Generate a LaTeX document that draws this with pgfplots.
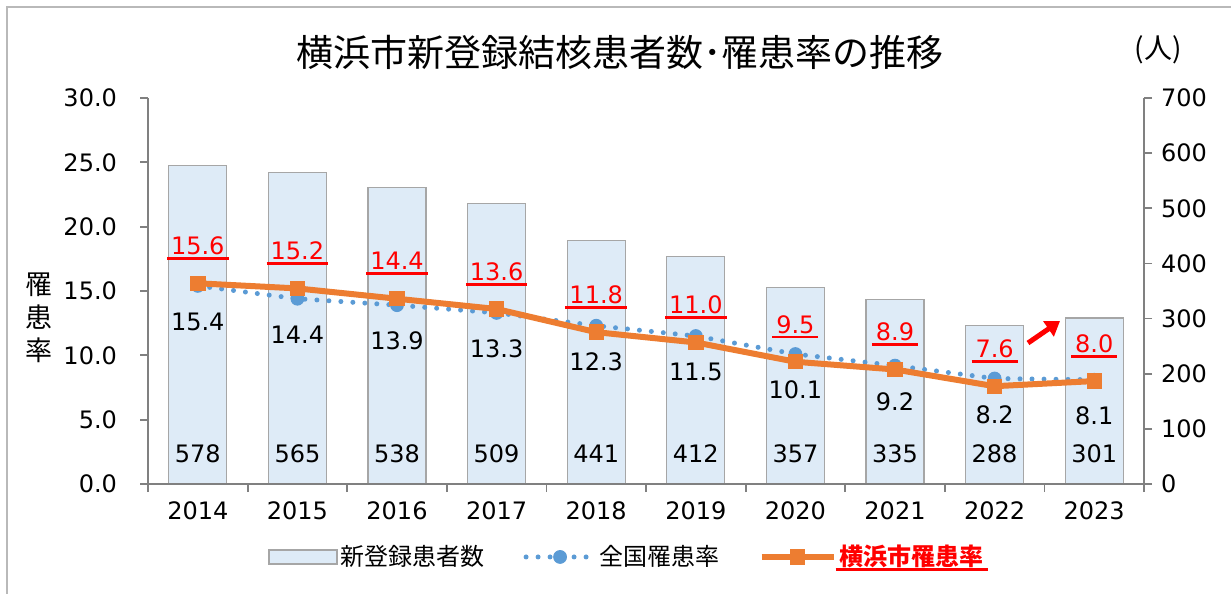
\documentclass[border=0pt]{standalone}
\usepackage{pgfplots}
\pgfplotsset{compat=1.18}
\usepackage{pgfplotstable}
\usepackage{fontspec}
\setmainfont{DejaVu Sans}
\newfontfamily\cjk{Noto Sans CJK JP}
\usetikzlibrary{arrows.meta}
\definecolor{barfill}{HTML}{DEEBF7}
\definecolor{bargray}{HTML}{A6A6A6}
\definecolor{axgray}{HTML}{808080}
\definecolor{natblue}{HTML}{5B9BD5}
\definecolor{yoko}{HTML}{ED7D31}
\definecolor{redlab}{HTML}{FF0000}
\newcommand\lab{\fontsize{12}{14}\selectfont}
\newcommand\ul[1]{\setbox0\hbox{#1}\rlap{\kern-2pt\rule[-2.6pt]{\dimexpr\wd0+4pt\relax}{1.3pt}}\box0}
\pgfplotsset{/pgf/number format/assume math mode=true,
  natleg/.style={legend image code/.code={\draw[mark repeat=2,mark phase=2,##1] plot coordinates {(0pt,0pt) (17pt,0pt) (34pt,0pt)};}},
  yokoleg/.style={legend image code/.code={\draw[mark repeat=2,mark phase=2,##1] plot coordinates {(0pt,0pt) (18pt,0pt) (36pt,0pt)};}},
  barleg/.style={legend image code/.code={\draw[fill=barfill, draw=bargray, line width=0.6pt] (0pt,-3.5pt) rectangle (34pt,3.5pt);}},
}

\pgfplotstableread{
x count nat  yoko
0 578   15.4 15.6
1 565   14.4 15.2
2 538   13.9 14.4
3 509   13.3 13.6
4 441   12.3 11.8
5 412   11.5 11.0
6 357   10.1 9.5
7 335   9.2  8.9
8 288   8.2  7.6
9 301   8.1  8.0
}\data

\begin{document}
\begin{tikzpicture}[x=1pt,y=1pt]
\useasboundingbox (0,0) rectangle (615.5,297);
\draw[gray!55, line width=1pt] (3.5,-2) -- (3.5,293.5) -- (620,293.5);

% right axis: counts (bars)
\begin{axis}[
  at={(74pt,55pt)}, anchor=south west,
  scale only axis, width=498pt, height=193pt,
  xmin=-0.5, xmax=9.5, ymin=0, ymax=700,
  axis x line=none, axis y line*=right,
  axis line style={draw=axgray, line width=0.9pt, -},
  ytick={0,100,...,700},
  tick align=outside, major tick length=4pt,
  ytick style={draw=axgray, line width=0.9pt},
  yticklabel style={font=\lab, xshift=1pt},
  clip=false,
]
\addplot[ybar, bar width=29pt, fill=barfill, draw=bargray, line width=0.6pt,
  visualization depends on={rawy \as \rawy},
  nodes near coords={\pgfmathprintnumber{\pgfplotspointmeta}},
  every node near coord/.append style={font=\lab, text=black, anchor=center,
    yshift={15.25-0.275714*\rawy}}]
  table[x=x, y=count] {\data};
\end{axis}

% left axis: rates (lines)
\begin{axis}[
  at={(74pt,55pt)}, anchor=south west,
  scale only axis, width=498pt, height=193pt,
  xmin=-0.5, xmax=9.5, ymin=0, ymax=30,
  axis x line*=bottom, axis y line*=left,
  axis line style={draw=axgray, line width=0.9pt, -},
  xtick={0,...,9},
  xticklabels={2014,2015,2016,2017,2018,2019,2020,2021,2022,2023},
  minor xtick={-0.5,0.5,...,9.5},
  major x tick style={draw=none},
  minor x tick style={draw=axgray, line width=0.9pt},
  minor tick length=4pt,
  ytick={0,5,...,30},
  yticklabel={\pgfmathprintnumber[fixed,fixed zerofill,precision=1]{\tick}},
  tick align=outside, major tick length=4pt,
  ytick style={draw=axgray, line width=0.9pt},
  yticklabel style={font=\lab, xshift=-8pt},
  xticklabel style={font=\lab, yshift=-1.5pt},
  clip=false,
  legend columns=3,
  legend style={at={(0.4814,-0.189)}, anchor=center, draw=none, fill=none,
    font=\cjk\fontsize{12}{14}\selectfont,
    nodes={inner sep=1.5pt},
    /tikz/every even column/.append style={column sep=18pt},
    /tikz/every odd column/.append style={column sep=0pt}},
]
\addlegendimage{barleg}
\addlegendentry{新登録患者数}

\addplot[color=natblue, line width=2.5pt, dash pattern=on 0pt off 6pt, line cap=round,
  mark=*, mark size=3.2pt, mark options={solid, fill=natblue, draw=natblue, line width=0.5pt},
  nodes near coords={\pgfmathprintnumber[fixed,fixed zerofill,precision=1]{\pgfplotspointmeta}},
  every node near coord/.append style={font=\lab, text=black, anchor=center, yshift=-18pt},
  natleg]
  table[x=x, y=nat] {\data};
\addlegendentry{全国罹患率}

\addplot[color=yoko, line width=3pt, mark=square*, mark size=3.6pt, mark options={solid, fill=yoko, draw=yoko, line width=0.5pt},
  nodes near coords={\ul{\pgfmathprintnumber[fixed,fixed zerofill,precision=1]{\pgfplotspointmeta}}},
  every node near coord/.append style={font=\lab, text=redlab, anchor=center, yshift=17.5pt},
  yokoleg]
  table[x=x, y=yoko] {\data};
\addlegendentry{\textcolor{redlab}{\bfseries\ul{横浜市罹患率}}}
\end{axis}

% annotations
\node[font=\cjk\fontsize{18.5}{20}\selectfont] at (310,271) {横浜市新登録結核患者数･罹患率の推移};
\node[font=\cjk\fontsize{14}{16}\selectfont] at (579,272) {(人)};
\node[font=\cjk\fontsize{13.5}{16.5}\selectfont, align=center] at (19.5,138) {罹\\患\\率};
\draw[redlab, line width=2.5pt, -{Triangle[length=7pt,width=9pt]}] (514,125.5) -- (530,136.5);
\end{tikzpicture}
\end{document}
